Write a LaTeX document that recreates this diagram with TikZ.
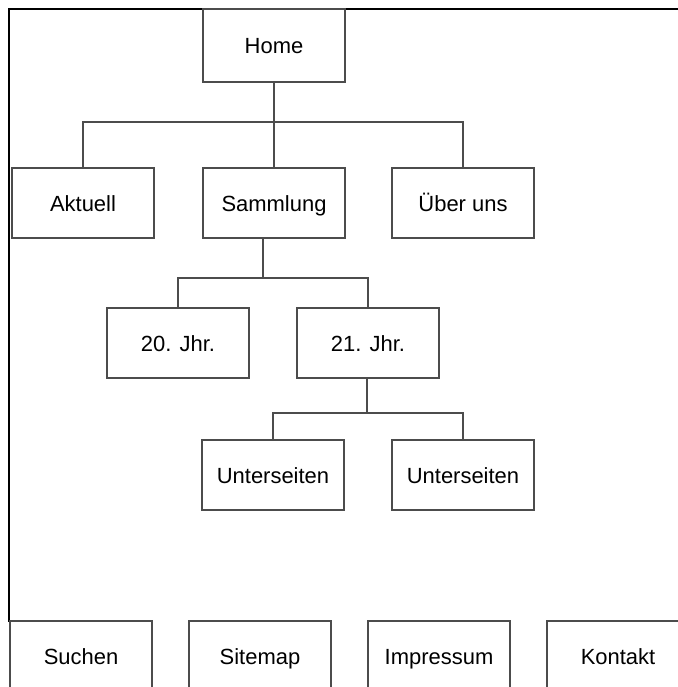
\documentclass[tikz,border=0pt]{standalone}
\usepackage{fontspec}
\setmainfont{Liberation Sans}
\tikzset{
	seite/.style={draw=black!70,line width=1pt,minimum width=2.84cm,minimum height=1.4cm,inner sep=0pt,outer sep=0pt,text height=1.8ex,text depth=0pt,font=\fontsize{12.5}{14}\selectfont},
	ast/.style={draw=black!70,line width=1pt}
}
\begin{document}
\begin{tikzpicture}[x=.02cm,y=-.02cm]
		\useasboundingbox (0,0) rectangle (678,687);
		\clip (0,0) rectangle (678,687);
		\draw[line width=1pt] (8,9) -- (678,9) (9,9) -- (9,622);

		\node[seite,minimum height=1.46cm] (home) at (274,45.5) {Home};
		\node[seite] (aktuell) at (83,203) {Aktuell};
		\node[seite] (sammlung) at (274,203) {Sammlung};
		\node[seite] (ueber) at (463,203) {Über uns};
		\node[seite] (jhr20) at (178,343) {20. Jhr.};
		\node[seite] (jhr21) at (368,343) {21. Jhr.};
		\node[seite] (unter1) at (273,475) {Unterseiten};
		\node[seite] (unter2) at (463,475) {Unterseiten};
		\foreach \t[count=\i] in {Suchen,Sitemap,Impressum,Kontakt}
		\node[seite] (unten\i) at ({81+179*(\i-1)},656) {\t};

		\coordinate (g1) at (274,122);
		\coordinate (g2) at (263,278);
		\coordinate (g3) at (367,413);
		\draw[ast] (home.south) -- (sammlung.north);
		\draw[ast] (aktuell.north) |- (g1) -| (ueber.north);
		\draw[ast] (g2 |- sammlung.south) -- (g2);
		\draw[ast] (jhr20.north) |- (g2) -| (jhr21.north);
		\draw[ast] (g3 |- jhr21.south) -- (g3);
		\draw[ast] (unter1.north) |- (g3) -| (unter2.north);
	\end{tikzpicture}
\end{document}
